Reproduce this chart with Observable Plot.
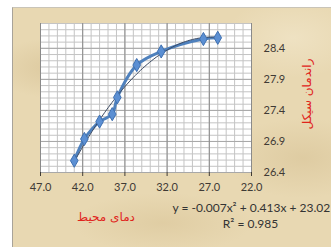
<!DOCTYPE html>
<html><head><meta charset="utf-8">
<script src="https://cdn.jsdelivr.net/npm/d3@7"></script>
<script src="https://cdn.jsdelivr.net/npm/@observablehq/plot@0.6"></script>
<style>
html,body{margin:0;padding:0;background:#fff;}
#wrap{position:relative;width:331px;height:247px;overflow:hidden;}
#bg{position:absolute;left:12px;top:7px;right:0;bottom:0;
  background:
    radial-gradient(ellipse 60px 30px at 40px 60px, rgba(200,175,125,0.35), transparent),
    radial-gradient(ellipse 80px 40px at 290px 150px, rgba(200,175,125,0.3), transparent),
    radial-gradient(ellipse 90px 30px at 150px 215px, rgba(205,180,130,0.3), transparent),
    radial-gradient(ellipse 70px 40px at 280px 30px, rgba(245,235,210,0.5), transparent),
    #e8d8b2;
  border-left:1px solid #a8a399;border-top:1px solid #c9c4b8;}
#chart{position:absolute;left:0;top:0;}
.ttl{position:absolute;color:#e0241c;font-family:'DejaVu Sans',sans-serif;font-size:12px;white-space:nowrap;direction:rtl;line-height:1;transform:translate(-50%,-50%);}
#ty{transform:translate(-50%,-50%) rotate(-90deg);}
</style></head><body>
<div id="wrap"><div id="bg"></div><div id="chart"></div>
<div id="tx" class="ttl" style="left:106px;top:217px;"></div>
<div id="ty" class="ttl" style="left:307px;top:94px;"></div>
</div>
<script>
// Data
const temps = [43.0, 41.8, 40.0, 38.5, 37.9, 35.6, 32.7, 27.7, 26.0];
const effs  = [26.59, 26.94, 27.22, 27.34, 27.61, 28.13, 28.35, 28.55, 28.57];
const xTicks = [47, 42, 37, 32, 27, 22];
const yTicks = [26.4, 26.9, 27.4, 27.9, 28.4];
const xTitle = "دمای محیط";
const yTitle = "راندمان سیکل";
const eqText = "y = -0.007x² + 0.413x + 23.02";
const r2Text = "R² = 0.985";

const data = temps.map((t, i) => ({t, e: effs[i]}));

// quadratic least-squares trendline from the data
function quadFit(xs, ys) {
  let S = [0,0,0,0,0], T = [0,0,0];
  xs.forEach((x, i) => {
    for (let k = 0; k < 5; k++) S[k] += Math.pow(x, k);
    for (let k = 0; k < 3; k++) T[k] += ys[i] * Math.pow(x, k);
  });
  const A = [[S[0],S[1],S[2],T[0]],[S[1],S[2],S[3],T[1]],[S[2],S[3],S[4],T[2]]];
  for (let i = 0; i < 3; i++) {
    let p = i; for (let r = i+1; r < 3; r++) if (Math.abs(A[r][i]) > Math.abs(A[p][i])) p = r;
    [A[i], A[p]] = [A[p], A[i]];
    for (let r = 0; r < 3; r++) if (r !== i) {
      const f = A[r][i] / A[i][i];
      for (let c = i; c < 4; c++) A[r][c] -= f * A[i][c];
    }
  }
  return [A[0][3]/A[0][0], A[1][3]/A[1][1], A[2][3]/A[2][2]];
}
const [c0, c1, c2] = quadFit(temps, effs);
const tMin = d3.min(temps), tMax = d3.max(temps);
const trend = d3.range(tMin, tMax + 1e-9, (tMax - tMin) / 80).map(t => ({t, e: c0 + c1*t + c2*t*t}));

const xMinor = d3.range(22, 47.001, 1);
const yMinor = d3.range(0, 25).map(i => +(26.4 + i * 0.1).toFixed(2));

const font = "'Liberation Sans Narrow', Lato, sans-serif";
const chart = Plot.plot({
  width: 331, height: 247,
  marginLeft: 40, marginRight: 80, marginTop: 23, marginBottom: 75,
  style: {background: "transparent", fontFamily: font, fontSize: "11px"},
  x: {domain: [47, 22]},
  y: {domain: [26.4, 28.8]},
  marks: [
    Plot.frame({fill: "white", stroke: null}),
    Plot.ruleX(xMinor, {stroke: "#c4c4c4", strokeWidth: 1}),
    Plot.ruleY(yMinor, {stroke: "#c4c4c4", strokeWidth: 1}),
    Plot.ruleY(yTicks, {stroke: "#a8a8a8", strokeWidth: 1}),
    Plot.ruleX(xTicks, {stroke: "#8a8a8a", strokeWidth: 1}),
    Plot.axisX({ticks: xTicks, tickFormat: d => d.toFixed(1), tickSize: 4, tickPadding: 7, color: "#3f3a35", label: null}),
    Plot.axisY({anchor: "right", ticks: yTicks, tickFormat: d => d.toFixed(1), tickSize: 0, tickPadding: 12, color: "#3f3a35", label: null}),
    Plot.line(data, {x: "t", y: "e", stroke: "#4f81bd", strokeWidth: 3, curve: "catmull-rom"}),
    Plot.line(trend, {x: "t", y: "e", stroke: "#3b4a63", strokeWidth: 1}),
    Plot.dot(data, {x: "t", y: "e", symbol: "diamond", r: 4, fill: "#5b8fd3", stroke: "#3f70b0", strokeWidth: 1}),
    Plot.text([eqText], {frameAnchor: "bottom-left", dx: 132, dy: 36, textAnchor: "start", lineAnchor: "middle", fill: "#333", fontSize: 12}),
    Plot.text([r2Text], {frameAnchor: "bottom-left", dx: 210, dy: 52, textAnchor: "middle", lineAnchor: "middle", fill: "#333", fontSize: 12})
  ]
});
document.getElementById("chart").appendChild(chart);
document.getElementById("tx").textContent = xTitle;
document.getElementById("ty").textContent = yTitle;
</script>
</body></html>
